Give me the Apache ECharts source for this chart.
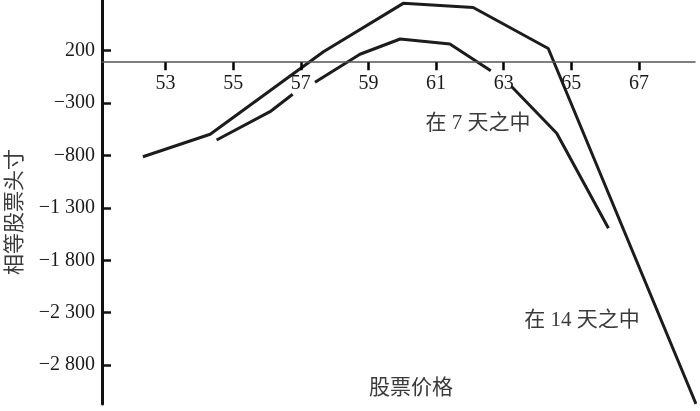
<!DOCTYPE html>
<html>
<head>
<meta charset="utf-8">
<script src="https://cdn.jsdelivr.net/npm/echarts@6/dist/echarts.min.js"></script>
<style>html,body{margin:0;padding:0;background:#fff;}#c{width:700px;height:411px;}</style>
</head>
<body>
<div id="c"></div>
<script>
// ---- data ----
const xTickValues = [53, 55, 57, 59, 61, 63, 65, 67];
const yTickValues = [200, -300, -800, -1300, -1800, -2300, -2800];
const yTickLabels = ['200', '\u2212300', '\u2212800', '\u22121 300', '\u22121 800', '\u22122 300', '\u22122 800'];
const xRange = [51.12, 68.66];
const yRange = [-3172, 684];
const xAxisCrossValue = 90;   // value on the y scale where the price axis crosses

// upper curve (labelled "在 14 天之中")
const days14X = [52.33, 54.32, 57.67, 60.03, 62.10, 64.32, 68.69];
const days14Y = [-812, -597, 190, 652, 612, 221, -3172];
// lower curve (labelled "在 7 天之中"); null = gap where it passes under a tick label
const days7X = [54.51, 56.09, 56.76, 57.1, 57.42, 58.75, 59.94, 61.41, 62.62, 62.9, 63.24, 64.57, 66.10];
const days7Y = [-652, -382, -216, null, -102, 166, 312, 264, 9, null, -144, -588, -1495];

const yAxisName = '相等股票头寸';
const xAxisName = '股票价格';
const label7 = '在 7 天之中';
const label14 = '在 14 天之中';

const pair = (xs, ys) => xs.map((x, i) => [x, ys[i]]);
const serifCJK = "'Liberation Serif', 'Noto Sans CJK SC', serif";

const W = 700, H = 411;
const grid = {left: 102, right: 5, top: 0, bottom: 7};
const gridH = H - grid.top - grid.bottom;
// place the price axis where the y scale reaches xAxisCrossValue
const xAxisOffset = -gridH * (xAxisCrossValue - yRange[0]) / (yRange[1] - yRange[0]);

const chart = echarts.init(document.getElementById('c'), null, {renderer: 'canvas'});
chart.setOption({
  animation: false,
  backgroundColor: '#ffffff',
  grid: Object.assign({containLabel: false, outerBoundsMode: 'none'}, grid),
  xAxis: {
    type: 'value',
    min: xRange[0], max: xRange[1],
    position: 'bottom', offset: xAxisOffset, z: 4,
    axisLine: {show: true, onZero: false, lineStyle: {color: '#555', width: 1.5}},
    axisTick: {show: true, inside: false, length: 8, customValues: xTickValues, lineStyle: {color: '#000', width: 2.5}},
    axisLabel: {show: true, customValues: xTickValues, margin: 12, fontSize: 20, fontFamily: serifCJK, color: '#1a1a1a',
      hideOverlap: false, showMinLabel: true, showMaxLabel: true},
    splitLine: {show: false}
  },
  yAxis: {
    type: 'value',
    min: yRange[0], max: yRange[1],
    axisLine: {show: true, onZero: false, lineStyle: {color: '#111', width: 3}},
    axisTick: {show: true, inside: true, length: 9, customValues: yTickValues, lineStyle: {color: '#111', width: 2.5}},
    axisLabel: {show: true, customValues: yTickValues, margin: 7, fontSize: 20, fontFamily: serifCJK, color: '#1a1a1a',
      formatter: v => yTickLabels[yTickValues.indexOf(Number(v))] ?? ''},
    splitLine: {show: false},
    name: yAxisName, nameLocation: 'middle', nameRotate: 90, nameGap: 76,
    nameTextStyle: {fontSize: 21, fontFamily: serifCJK, color: '#3a3a3a', padding: [0, 20, 0, 0]}
  },
  series: [{
    type: 'line', name: label14, data: pair(days14X, days14Y), showSymbol: false, symbol: 'none',
    lineStyle: {color: '#1c1c1c', width: 3}, clip: true, z: 3
  }, {
    type: 'line', name: label7, data: pair(days7X, days7Y), showSymbol: false, symbol: 'none', connectNulls: false,
    lineStyle: {color: '#1c1c1c', width: 3}, clip: true, z: 3
  }],
  graphic: [
    {type: 'text', x: 478, y: 123, style: {text: label7, font: "21px " + serifCJK, fill: '#3a3a3a', align: 'center', verticalAlign: 'middle', textAlign: 'center', textVerticalAlign: 'middle'}},
    {type: 'text', x: 582, y: 320, style: {text: label14, font: "21px " + serifCJK, fill: '#3a3a3a', align: 'center', verticalAlign: 'middle', textAlign: 'center', textVerticalAlign: 'middle'}},
    {type: 'text', x: 411, y: 388, style: {text: xAxisName, font: "21px " + serifCJK, fill: '#3a3a3a', align: 'center', verticalAlign: 'middle', textAlign: 'center', textVerticalAlign: 'middle'}}
  ]
});
</script>
</body>
</html>
